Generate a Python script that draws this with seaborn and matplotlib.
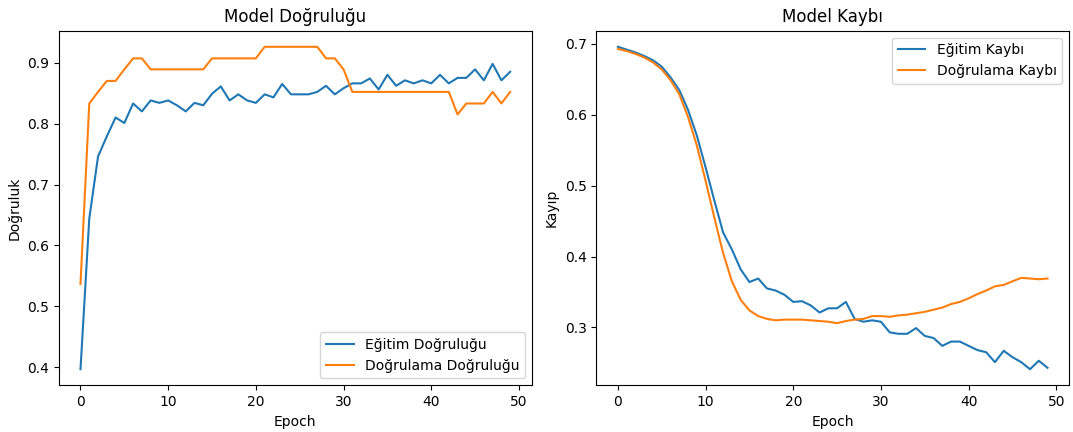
import numpy as np
import pandas as pd
import matplotlib
matplotlib.use("Agg")
import matplotlib.pyplot as plt
import seaborn as sns

epochs = list(range(50))

train_acc = [0.397, 0.644, 0.746, 0.779, 0.810, 0.801, 0.833, 0.820, 0.838, 0.834,
             0.838, 0.830, 0.820, 0.834, 0.830, 0.849, 0.861, 0.838, 0.848, 0.838,
             0.834, 0.848, 0.843, 0.865, 0.848, 0.848, 0.848, 0.852, 0.862, 0.848,
             0.858, 0.866, 0.866, 0.874, 0.856, 0.880, 0.862, 0.871, 0.866, 0.871,
             0.866, 0.880, 0.866, 0.875, 0.875, 0.889, 0.871, 0.898, 0.871, 0.885]

val_acc = [0.537, 0.833, 0.852, 0.870, 0.870, 0.889, 0.907, 0.907, 0.889, 0.889,
           0.889, 0.889, 0.889, 0.889, 0.889, 0.907, 0.907, 0.907, 0.907, 0.907,
           0.907, 0.926, 0.926, 0.926, 0.926, 0.926, 0.926, 0.926, 0.907, 0.907,
           0.889, 0.852, 0.852, 0.852, 0.852, 0.852, 0.852, 0.852, 0.852, 0.852,
           0.852, 0.852, 0.852, 0.815, 0.833, 0.833, 0.833, 0.852, 0.833, 0.852]

train_loss = [0.696, 0.692, 0.688, 0.683, 0.677, 0.668, 0.653, 0.635, 0.607, 0.571,
              0.526, 0.479, 0.434, 0.410, 0.382, 0.364, 0.369, 0.355, 0.352, 0.346,
              0.336, 0.337, 0.331, 0.321, 0.327, 0.327, 0.336, 0.312, 0.308, 0.310,
              0.308, 0.293, 0.291, 0.291, 0.299, 0.288, 0.285, 0.274, 0.280, 0.280,
              0.274, 0.268, 0.265, 0.251, 0.267, 0.258, 0.251, 0.241, 0.253, 0.243]

val_loss = [0.693, 0.690, 0.686, 0.681, 0.674, 0.664, 0.649, 0.629, 0.597, 0.557,
            0.507, 0.455, 0.405, 0.365, 0.339, 0.324, 0.316, 0.312, 0.310, 0.311,
            0.311, 0.311, 0.310, 0.309, 0.308, 0.306, 0.309, 0.311, 0.312, 0.316,
            0.316, 0.315, 0.317, 0.318, 0.320, 0.322, 0.325, 0.328, 0.333, 0.336,
            0.341, 0.347, 0.352, 0.358, 0.360, 0.365, 0.370, 0.369, 0.368, 0.369]

acc_labels = ["Eğitim Doğruluğu", "Doğrulama Doğruluğu"]
loss_labels = ["Eğitim Kaybı", "Doğrulama Kaybı"]
colors = ["#1f77b4", "#ff7f0e"]

acc_df = pd.DataFrame({"Epoch": epochs * 2,
                       "value": train_acc + val_acc,
                       "seri": [acc_labels[0]] * 50 + [acc_labels[1]] * 50})
loss_df = pd.DataFrame({"Epoch": epochs * 2,
                        "value": train_loss + val_loss,
                        "seri": [loss_labels[0]] * 50 + [loss_labels[1]] * 50})

fig, (ax1, ax2) = plt.subplots(1, 2, figsize=(10.73, 4.32), dpi=100)
fig.subplots_adjust(left=0.055, right=0.9963, bottom=0.108, top=0.929, wspace=0.137)

# dogruluk
sns.lineplot(data=acc_df, x="Epoch", y="value", hue="seri", palette=colors, ax=ax1)
ax1.set_title("Model Doğruluğu")
ax1.set_xlabel("Epoch")
ax1.set_ylabel("Doğruluk")
ax1.legend(loc="lower right")

# kayip
sns.lineplot(data=loss_df, x="Epoch", y="value", hue="seri", palette=colors, ax=ax2)
ax2.set_title("Model Kaybı")
ax2.set_xlabel("Epoch")
ax2.set_ylabel("Kayıp")
ax2.legend(loc="upper right")

fig.savefig("out.png", dpi=100)
